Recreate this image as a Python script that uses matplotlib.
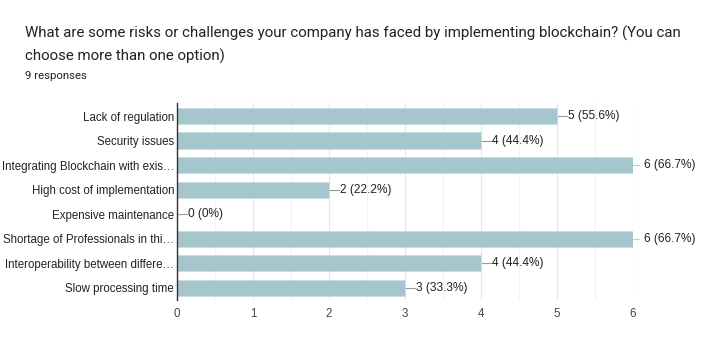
import matplotlib
matplotlib.use('Agg')
import matplotlib.pyplot as plt
import numpy as np

# --- data ---
categories = ['Lack of regulation', 'Security issues', 'Integrating Blockchain with exis\u2026',
              'High cost of implementation', 'Expensive maintenance',
              'Shortage of Professionals in thi\u2026', 'Interoperability between differe\u2026',
              'Slow processing time']
counts = [5, 4, 6, 2, 0, 6, 4, 3]
labels = ['5 (55.6%)', '4 (44.4%)', '6 (66.7%)', '2 (22.2%)', '0 (0%)',
          '6 (66.7%)', '4 (44.4%)', '3 (33.3%)']
xticks = [0, 1, 2, 3, 4, 5, 6]

bar_col = '#a6c6ce'
txt_col = '#222222'

fig = plt.figure(figsize=(7.06, 3.61), dpi=100)
fig.text(25/706, 1-33/361, 'What are some risks or challenges your company has faced by implementing blockchain? (You can',
         fontsize=10.85, family='Roboto', color=txt_col, va='center')
fig.text(25/706, 1-56/361, 'choose more than one option)',
         fontsize=10.85, family='Roboto', color=txt_col, va='center')
fig.text(25/706, 1-76/361, '9 responses', fontsize=8.2, family='Roboto', color=txt_col, va='center')

ax = fig.add_axes([177/706, 1-300/361, (633-177)/706, 197/361])
y = np.arange(len(categories))
ax.barh(y, counts, height=0.66, color=bar_col, edgecolor='#c9dde2', linewidth=0.6, zorder=3)

# leader line + value label for each bar
for yi, c, lab in zip(y, counts, labels):
    if c >= 6:
        ax.plot([c, c + 0.08], [yi, yi], color='#cccccc', lw=0.8, zorder=2, clip_on=False)
        ax.text(c + 0.15, yi, lab, va='center', ha='left', fontsize=8.6,
                family='Liberation Sans', color=txt_col, clip_on=False)
    else:
        ax.plot([c, c + 0.13], [yi, yi], color='#999999', lw=0.8, zorder=2, clip_on=False)
        ax.text(c + 0.14, yi, lab, va='center', ha='left', fontsize=8.6,
                family='Liberation Sans', color=txt_col, clip_on=False)

ax.set_xlim(0, 6)
ax.set_ylim(len(categories) - 0.5, -0.53)
ax.set_yticks(y)
ax.set_yticklabels(categories, fontsize=8.3, family='Liberation Sans', color=txt_col)
ax.set_xticks(xticks)
ax.set_xticklabels([str(t) for t in xticks], fontsize=8.3, family='Liberation Sans', color='#444444')
ax.set_xticks(np.arange(0.5, 6, 1), minor=True)
ax.tick_params(axis='both', which='both', length=0)
ax.tick_params(axis='x', pad=6)
ax.tick_params(axis='y', pad=2)
ax.grid(axis='x', which='major', color='#e6e6e6', lw=0.8, zorder=0)
ax.grid(axis='x', which='minor', color='#f2f2f2', lw=0.8, zorder=0)
for s in ['top', 'right', 'bottom']:
    ax.spines[s].set_visible(False)
ax.spines['left'].set_color('#333333')
ax.spines['left'].set_linewidth(1.0)
ax.spines['left'].set_zorder(4)

plt.savefig('out.png', dpi=100)
